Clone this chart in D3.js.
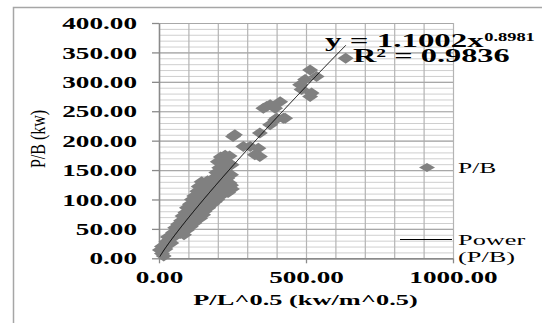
<!DOCTYPE html>
<html>
<head>
<meta charset="utf-8">
<script src="https://cdn.jsdelivr.net/npm/d3@7"></script>
<style>
  html, body { margin: 0; padding: 0; background: #fff; }
  svg { display: block; }
  text { font-family: "Liberation Serif", "Times New Roman", serif; fill: #000; }
</style>
</head>
<body>
<svg id="chart" width="542" height="323"></svg>
<script>
// ---------- data ----------
const xValues = [
  3, 10, 16, 22, 10, 20,
  25, 35, 42, 30,
  40, 55, 48,
  60, 72, 85,
  55, 70, 82, 95,
  65, 80, 95, 108,
  75, 90, 105, 120,
  80, 95, 110, 125, 140, 150,
  90, 105, 120, 135, 155,
  95, 110, 125, 140, 155, 168,
  105, 120, 135, 150, 165, 180,
  112, 128, 145, 160, 175, 190, 198,
  120, 140, 158, 175, 195, 210,
  130, 148, 165, 182, 200, 218, 235, 248,
  135, 152, 170, 190, 210, 228, 245,
  145, 165, 185, 205, 222, 240,
  185, 200, 215, 232,
  195, 210, 228, 245,
  205, 218, 232,
  200, 215, 235, 247,
  210, 225, 240,
  258, 343, 252, 287, 338, 326, 310, 343,
  366, 395, 378, 355, 395, 429, 378, 400, 423, 412,
  480, 485, 497, 514, 536, 519, 514,
  635
];
const yValues = [
  14, 8, 4, 16, 20, 22,
  28, 32, 26, 36,
  36, 38, 44,
  45, 42, 40,
  52, 50, 55, 48,
  58, 60, 56, 54,
  64, 66, 62, 60,
  72, 74, 70, 72, 68, 74,
  78, 80, 78, 76, 80,
  86, 88, 84, 88, 84, 86,
  92, 94, 92, 95, 90, 92,
  100, 102, 98, 102, 98, 96, 100,
  106, 108, 106, 108, 104, 106,
  114, 116, 112, 116, 112, 114, 112, 118,
  122, 124, 120, 124, 122, 120, 124,
  130, 132, 128, 132, 130, 128,
  136, 140, 138, 136,
  146, 148, 144, 142,
  154, 158, 156,
  164, 166, 162, 159,
  172, 175, 174,
  210, 213, 207, 190, 187, 176, 190, 173,
  258, 255, 261, 255, 235, 238, 227, 238, 238, 266,
  295, 287, 304, 320, 309, 281, 275,
  340
];
const xTickValues = [0, 500, 1000];
const yTickValues = [0, 50, 100, 150, 200, 250, 300, 350, 400];
const trendCoefA = 1.1002;
const trendCoefB = 0.8981;
const equationMain = "y = 1.1002x";
const equationExp = "0.8981";
const rSquaredLabel = "R² = 0.9836";
const xAxisTitle = "P/L^0.5 (kw/m^0.5)";
const yAxisTitle = "P/B (kw)";
const legendLabels = ["P/B", "Power", "(P/B)"];

// ---------- layout ----------
const svg = d3.select("#chart");
const SX = 1.7; // horizontal text stretch of the original picture
const plot = { left: 159, right: 453, top: 23, bottom: 258.3 };
const x = d3.scaleLinear().domain([0, 1000]).range([plot.left, plot.right]);
const y = d3.scaleLinear().domain([0, 400]).range([plot.bottom, plot.top]);
const pts = xValues.map((v, i) => ({ x: v, y: yValues[i] }));

// outer chart border
svg.append("rect")
  .attr("x", 13.5).attr("y", 7.5).attr("width", 560).attr("height", 340)
  .attr("fill", "#fff").attr("stroke", "#a6a6a6").attr("stroke-width", 1.5);

// minor horizontal grid
svg.append("g")
  .attr("transform", `translate(${plot.left},0)`)
  .call(d3.axisLeft(y).tickValues(d3.range(0, 401, 10)).tickSize(-(plot.right - plot.left)).tickFormat(""))
  .call(g => g.select(".domain").remove())
  .call(g => g.selectAll("line").attr("stroke", "#cfcfcf").attr("stroke-width", 1));

// vertical grid
svg.append("g")
  .attr("transform", `translate(0,${plot.bottom})`)
  .call(d3.axisBottom(x).tickValues(d3.range(0, 1001, 100)).tickSize(-(plot.bottom - plot.top)).tickFormat(""))
  .call(g => g.select(".domain").remove())
  .call(g => g.selectAll("line").attr("stroke", "#b4b4b4").attr("stroke-width", 1.2));

// major horizontal grid
svg.append("g")
  .attr("transform", `translate(${plot.left},0)`)
  .call(d3.axisLeft(y).tickValues(yTickValues).tickSize(-(plot.right - plot.left)).tickFormat(""))
  .call(g => g.select(".domain").remove())
  .call(g => g.selectAll("line").attr("stroke", "#a8a8a8").attr("stroke-width", 1.2));

// y axis
svg.append("g")
  .attr("transform", `translate(${plot.left},0)`)
  .call(d3.axisLeft(y).tickValues(yTickValues).tickSize(7).tickSizeOuter(0).tickFormat(d3.format(".2f")))
  .call(g => g.select(".domain").attr("stroke", "#8a8a8a").attr("stroke-width", 1.5))
  .call(g => g.selectAll(".tick line").attr("stroke", "#8a8a8a").attr("stroke-width", 1.3))
  .call(g => g.selectAll(".tick text")
    .attr("x", 0).attr("dy", null).attr("fill", "#000")
    .attr("text-anchor", "end")
    .attr("font-family", "Liberation Serif, Times New Roman, serif")
    .attr("font-weight", "bold").attr("font-size", 16)
    .attr("transform", `translate(-22,5.6) scale(${SX},1)`));

// x axis
svg.append("g")
  .attr("transform", `translate(0,${plot.bottom})`)
  .call(d3.axisBottom(x).tickValues(xTickValues).tickSize(5).tickSizeOuter(0).tickFormat(d3.format(".2f")))
  .call(g => g.select(".domain").attr("stroke", "#8a8a8a").attr("stroke-width", 1.5))
  .call(g => g.selectAll(".tick line").attr("stroke", "#8a8a8a").attr("stroke-width", 1.3))
  .call(g => g.selectAll(".tick text")
    .attr("y", 0).attr("dy", null).attr("fill", "#000")
    .attr("text-anchor", "middle")
    .attr("font-family", "Liberation Serif, Times New Roman, serif")
    .attr("font-weight", "bold").attr("font-size", 16)
    .attr("transform", `translate(0,24.8) scale(${SX},1)`));

// diamond markers
const diamond = (w, h) => `M${-w / 2},0L0,${-h / 2}L${w / 2},0L0,${h / 2}Z`;
svg.append("g").selectAll("path")
  .data(pts).join("path")
  .attr("d", diamond(16, 11))
  .attr("transform", d => `translate(${x(d.x)},${y(d.y)})`)
  .attr("fill", "#808080");

// power trendline
const xMin = d3.min(xValues), xMax = d3.max(xValues);
const trendPts = d3.range(xMin, xMax, 2).concat([xMax]).map(v => ({ x: v, y: trendCoefA * Math.pow(v, trendCoefB) }));
svg.append("path")
  .datum(trendPts)
  .attr("d", d3.line().x(d => x(d.x)).y(d => y(d.y)))
  .attr("fill", "none").attr("stroke", "#000").attr("stroke-width", 1);

// helper for stretched text
function stretched(str, px, py, size, weight, anchor, sx) {
  return svg.append("text")
    .attr("transform", `translate(${px},${py}) scale(${sx},1)`)
    .attr("text-anchor", anchor)
    .attr("font-size", size)
    .attr("font-weight", weight)
    .text(str);
}

// axis titles
stretched(xAxisTitle, 305.5, 304.5, 15.5, "bold", "middle", SX);
svg.append("text")
  .attr("transform", "translate(44.5,139) scale(1.28,1) rotate(-90)")
  .attr("text-anchor", "middle")
  .attr("font-size", 16)
  .text(yAxisTitle);

// equation and R²
const eq = stretched(equationMain, 325, 46.7, 19.5, "bold", "start", 1.69);
const eqW = eq.node().getComputedTextLength() * 1.69;
stretched(equationExp, 325 + eqW + 0.5, 40.5, 11.5, "bold", "start", 1.6);
stretched(rSquaredLabel, 353, 61.7, 19.5, "bold", "start", 1.66);

// legend
svg.append("path")
  .attr("d", diamond(16, 9))
  .attr("transform", "translate(427,167.5)")
  .attr("fill", "#808080");
stretched(legendLabels[0], 458, 172.7, 15, "normal", "start", SX);
svg.append("line")
  .attr("x1", 400).attr("x2", 452).attr("y1", 239.5).attr("y2", 239.5)
  .attr("stroke", "#000").attr("stroke-width", 1);
stretched(legendLabels[1], 458, 245, 15.5, "normal", "start", SX);
stretched(legendLabels[2], 458, 261.5, 15.5, "normal", "start", SX);
</script>
</body>
</html>
